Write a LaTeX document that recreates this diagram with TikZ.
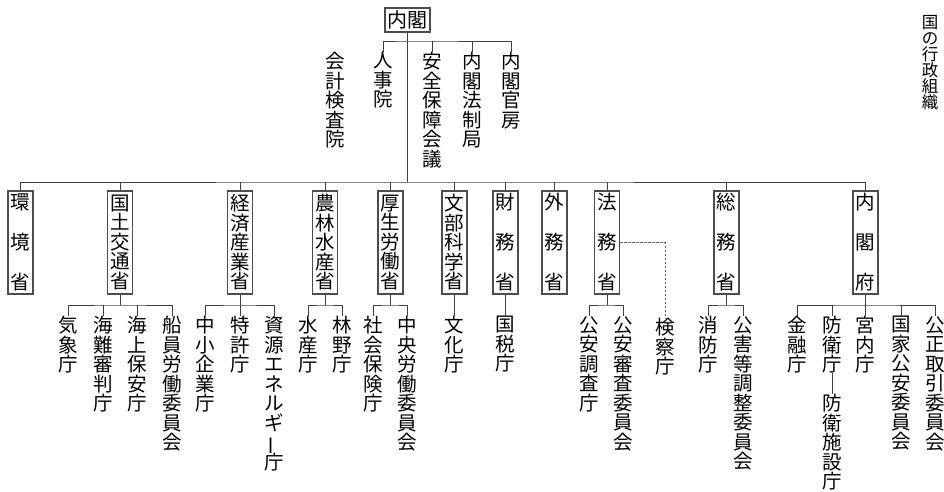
\documentclass[tikz,border=0pt]{standalone}
\usepackage{fontspec}
\usepackage{graphicx}
\setmainfont{Noto Sans CJK JP}
\newcommand{\chbar}{\rotatebox[origin=c]{90}{ー}}
\begin{document}
\begin{tikzpicture}[x=1pt,y=-1pt,
  ln/.style={draw=black!75,line width=1pt},
  dashln/.style={draw=black!60,line width=0.9pt,dash pattern=on 2.5pt off 1.5pt},
  vt/.style={inner sep=0pt,anchor=north,align=center,font={\fontsize{19.5}{19.5}\selectfont\lineskiplimit=-50pt}},
  ttl/.style={inner sep=0pt,anchor=north,align=center,font={\fontsize{16.5}{16}\selectfont\lineskiplimit=-50pt}},
  mbox/.style={draw=black!70,line width=1.1pt,inner sep=0pt,minimum width=25pt,minimum height=103pt,align=center,font={\fontsize{19.5}{19.5}\selectfont\lineskiplimit=-50pt}},
  mboxt/.style={mbox,font={\fontsize{19.5}{40}\selectfont\lineskiplimit=-50pt}},
  cabbox/.style={draw=black!70,line width=1.1pt,inner sep=1pt,minimum width=45pt,minimum height=24pt,font={\fontsize{20}{20}\selectfont}}]
\useasboundingbox (0,0) rectangle (944,491);

% title
\node[ttl] (title) at (930,15) {国\\の\\行\\政\\組\\織};

% cabinet
\node[cabbox] (cab) at (407.5,20) {内閣};
\coordinate (J) at (407.5,182);
\coordinate (tJ) at (407.5,41);

\node[vt] (kaikei) at (335,52) {会\\計\\検\\査\\院};
\node[vt] (jinji) at (383,52) {人\\事\\院};
\node[vt] (anpo) at (432,52) {安\\全\\保\\障\\会\\議};
\node[vt] (hosei) at (472,52) {内\\閣\\法\\制\\局};
\node[vt] (kanbo) at (511,52) {内\\閣\\官\\房};

% ministries
\node[mboxt] (m1) at (20.5,242.5) {環\\境\\省};
\node[mbox] (m2) at (120,242.5) {国\\土\\交\\通\\省};
\node[mbox] (m3) at (240,242.5) {経\\済\\産\\業\\省};
\node[mbox] (m4) at (325,242.5) {農\\林\\水\\産\\省};
\node[mbox] (m5) at (390.5,242.5) {厚\\生\\労\\働\\省};
\node[mbox] (m6) at (454.5,242.5) {文\\部\\科\\学\\省};
\node[mboxt] (m7) at (505.5,242.5) {財\\務\\省};
\node[mboxt] (m8) at (554.5,242.5) {外\\務\\省};
\node[mboxt] (m9) at (607,242.5) {法\\務\\省};
\node[mboxt] (m10) at (726.5,242.5) {総\\務\\省};
\node[mboxt] (m11) at (865.5,242.5) {内\\閣\\府};

% agencies
\node[vt] (kisho) at (68,316) {気\\象\\庁};
\node[vt] (kainan) at (103,316) {海\\難\\審\\判\\庁};
\node[vt] (kaijo) at (137.5,316) {海\\上\\保\\安\\庁};
\node[vt] (senin) at (172,316) {船\\員\\労\\働\\委\\員\\会};
\node[vt] (chusho) at (205,316) {中\\小\\企\\業\\庁};
\node[vt] (tokkyo) at (240,316) {特\\許\\庁};
\node[vt] (shigen) at (274,316) {資\\源\\エ\\ネ\\ル\\ギ\\\chbar\\庁};
\node[vt] (suisan) at (308,316) {水\\産\\庁};
\node[vt] (rinya) at (342,316) {林\\野\\庁};
\node[vt] (shakai) at (373,316) {社\\会\\保\\険\\庁};
\node[vt] (chuo) at (407,316) {中\\央\\労\\働\\委\\員\\会};
\node[vt] (bunka) at (454.5,316) {文\\化\\庁};
\node[vt] (kokuzei) at (505.5,316) {国\\税\\庁};
\node[vt] (koan) at (589,316) {公\\安\\調\\査\\庁};
\node[vt] (shinsa) at (623,316) {公\\安\\審\\査\\委\\員\\会};
\node[vt] (kensatsu) at (665,318) {検\\察\\庁};
\node[vt] (shobo) at (708,316) {消\\防\\庁};
\node[vt] (kogai) at (743,316) {公\\害\\等\\調\\整\\委\\員\\会};
\node[vt] (kinyu) at (797,316) {金\\融\\庁};
\node[vt] (boei) at (832,316) {防\\衛\\庁};
\node[vt] (shisetsu) at (832,394) {防\\衛\\施\\設\\庁};
\node[vt] (kunai) at (865.5,316) {宮\\内\\庁};
\node[vt] (kokka) at (901,316) {国\\家\\公\\安\\委\\員\\会};
\node[vt] (kotori) at (935,316) {公\\正\\取\\引\\委\\員\\会};

% cabinet connectors
\draw[ln] (cab.south) -- (J);
\draw[ln] (jinji.north) |- (tJ) -| (kanbo.north);
\draw[ln] (anpo.north) -- (anpo.north |- tJ);
\draw[ln] (hosei.north) -- (hosei.north |- tJ);

% ministry bus
\draw[ln] (m1.north) |- (J) -| (m11.north);
\foreach \m in {m2,m3,m4,m5,m6,m7,m8,m9,m10}
  \draw[ln] (\m.north) -- (\m.north |- J);

% agency groups
\coordinate (g2) at (120,305);
\draw[ln] (m2.south) -- (g2);
\draw[ln] (kisho.north) |- (g2) -| (senin.north);
\draw[ln] (kainan.north) -- (kainan.north |- g2);
\draw[ln] (kaijo.north) -- (kaijo.north |- g2);

\coordinate (g3) at (240,305);
\draw[ln] (m3.south) -- (tokkyo.north);
\draw[ln] (chusho.north) |- (g3) -| (shigen.north);

\coordinate (g4) at (325,305);
\draw[ln] (m4.south) -- (g4);
\draw[ln] (suisan.north) |- (g4) -| (rinya.north);

\coordinate (g5) at (390.5,305);
\draw[ln] (m5.south) -- (g5);
\draw[ln] (shakai.north) |- (g5) -| (chuo.north);

\draw[ln] (m6.south) -- (bunka.north);
\draw[ln] (m7.south) -- (kokuzei.north);

\coordinate (g9) at (607,305);
\draw[ln] (m9.south) -- (g9);
\draw[ln] (koan.north) |- (g9) -| (shinsa.north);
\draw[dashln] (m9.east) -| (kensatsu.north);

\coordinate (g10) at (726.5,305);
\draw[ln] (m10.south) -- (g10);
\draw[ln] (shobo.north) |- (g10) -| (kogai.north);

\coordinate (g11) at (865.5,305);
\draw[ln] (m11.south) -- (kunai.north);
\draw[ln] (kinyu.north) |- (g11) -| (kotori.north);
\draw[ln] (boei.north) -- (boei.north |- g11);
\draw[ln] (kokka.north) -- (kokka.north |- g11);
\draw[ln] (boei.south) -- (shisetsu.north);
\end{tikzpicture}
\end{document}
